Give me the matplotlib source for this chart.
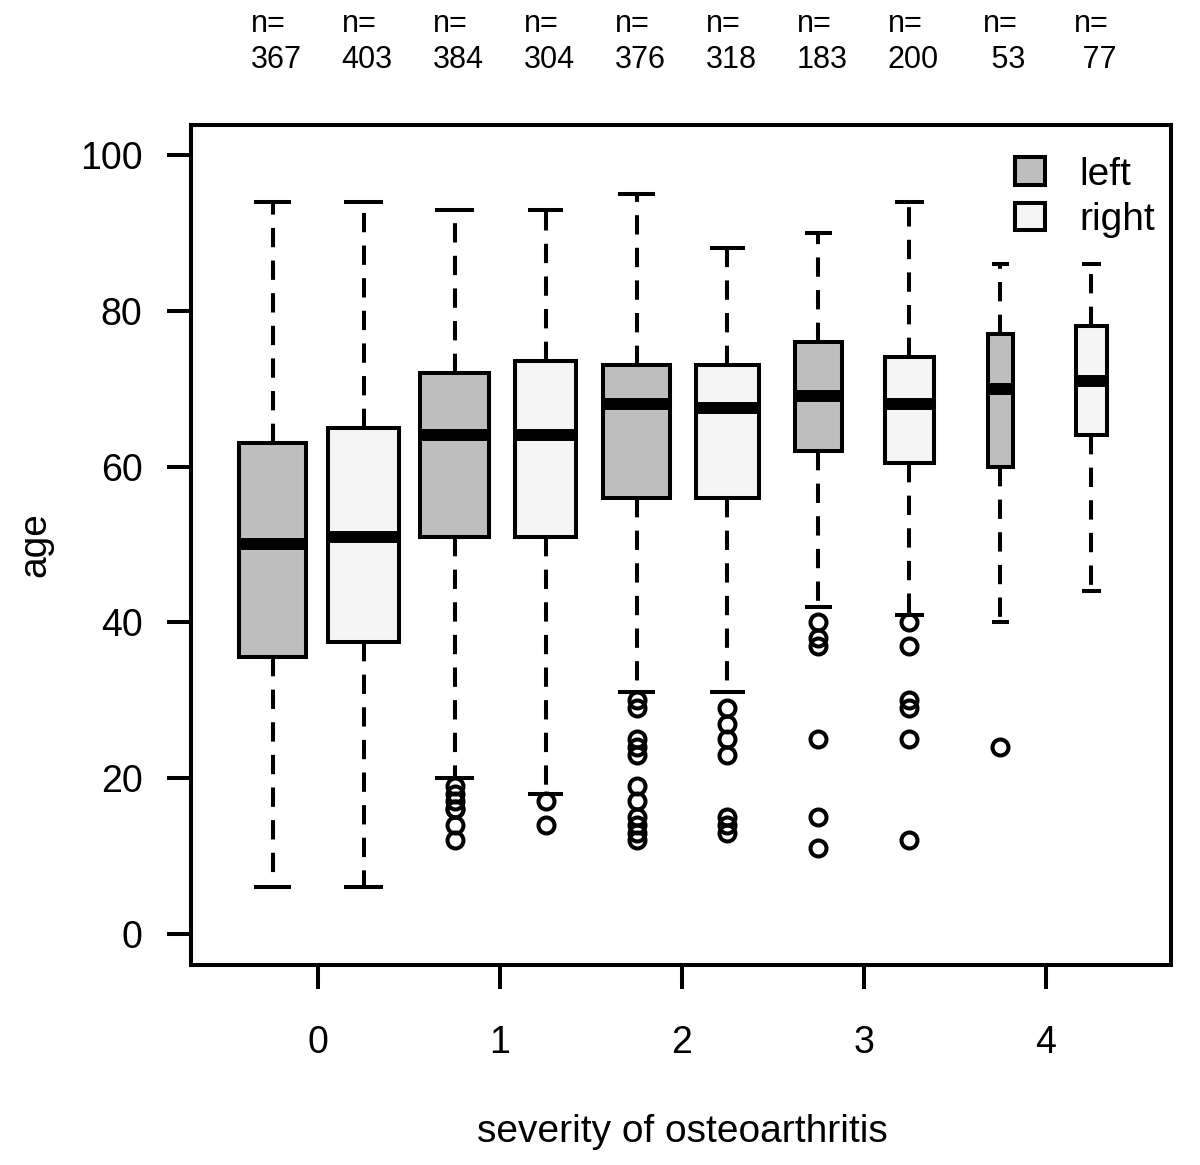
import numpy as np
import matplotlib
matplotlib.use("Agg")
import matplotlib.pyplot as plt
import matplotlib.transforms as mtransforms
from matplotlib.patches import Patch

plt.rcParams['font.family'] = ['Liberation Sans', 'DejaVu Sans']

# data (left/right alternating per severity grade)
severity = [0, 1, 2, 3, 4]
sides = ["left", "right"]
n_obs = [367, 403, 384, 304, 376, 318, 183, 200, 53, 77]
whislo = [6, 6, 20, 18, 31, 31, 42, 41, 40, 44]
q1 = [35.5, 37.5, 51, 51, 56, 56, 62, 60.5, 60, 64]
med = [50, 51, 64, 64, 68, 67.5, 69, 68, 70, 71]
q3 = [63, 65, 72, 73.5, 73, 73, 76, 74, 77, 78]
whishi = [94, 94, 93, 93, 95, 88, 90, 94, 86, 86]
fliers = [
    [],
    [],
    [19, 18, 17, 16, 16, 14, 12],
    [17, 14],
    [30, 29, 25, 24, 23, 19, 17, 15, 14, 13, 12],
    [29, 27, 25, 23, 15, 14, 13],
    [40, 38, 37, 25, 15, 11],
    [40, 37, 30, 29, 25, 12],
    [24],
    [],
]

side_colors = {"left": "#bebebe", "right": "#f5f5f5"}

stats = []
positions = []
widths = []
colors = []
nmax = max(n_obs)
for i in range(len(n_obs)):
    grade = severity[i // 2]
    side = sides[i % 2]
    stats.append(dict(med=med[i], q1=q1[i], q3=q3[i],
                      whislo=whislo[i], whishi=whishi[i], fliers=fliers[i]))
    positions.append(grade + (-0.25 if side == "left" else 0.25))
    widths.append(0.385 * np.sqrt(n_obs[i] / nmax))  # varwidth boxes
    colors.append(side_colors[side])

fig = plt.figure(figsize=(12, 11.65), dpi=100)
ax = fig.add_axes([191 / 1200, 200 / 1165, 980 / 1200, 840 / 1165])

lw = 2.9
res = ax.bxp(stats, positions=positions, widths=widths,
             capwidths=[w * 0.5 for w in widths],
             patch_artist=True, manage_ticks=False,
             boxprops=dict(linewidth=lw, edgecolor="black"),
             medianprops=dict(color="black", linewidth=8.6, solid_capstyle="butt"),
             whiskerprops=dict(color="black", linewidth=lw, linestyle=(0, (4.8, 3.3))),
             capprops=dict(color="black", linewidth=lw),
             flierprops=dict(marker="o", markersize=11.5, markerfacecolor="none",
                             markeredgecolor="black", markeredgewidth=lw))
for patch, c in zip(res["boxes"], colors):
    patch.set_facecolor(c)

ax.set_xlim(-0.698, 4.687)
ax.set_ylim(-4, 103.85)
ax.set_xticks(severity)
ax.set_xticklabels([str(s) for s in severity])
ax.set_yticks([0, 20, 40, 60, 80, 100])
for sp in ax.spines.values():
    sp.set_linewidth(lw)
ax.tick_params(axis="both", length=17, width=lw, labelsize=27)
ax.tick_params(axis="y", pad=18)
ax.tick_params(axis="x", pad=26)

fig.text(35 / 1200, 1 - 545 / 1165, "age", rotation=90,
         ha="center", va="center", fontsize=28)
fig.text(682 / 1200, 1 - 1132 / 1165, "severity of osteoarthritis",
         ha="center", va="center", fontsize=28)

# n counts above each box
trans = mtransforms.blended_transform_factory(ax.transData, fig.transFigure)
for x, n in zip(positions, n_obs):
    ax.text(x + 0.02, 1 - 42 / 1165, "n=\n%3d" % n, transform=trans,
            ha="center", va="center", multialignment="left",
            fontsize=22, linespacing=1.25)

handles = [Patch(facecolor=side_colors[s], edgecolor="black", linewidth=lw, label=s)
           for s in sides]
ax.legend(handles=handles, loc="upper right", bbox_to_anchor=(1, 1 - 16 / 840),
          frameon=False, fontsize=28,
          handlelength=0.77, handleheight=0.7, handletextpad=0.9,
          labelspacing=0.25, borderaxespad=0)

fig.savefig("out.png", dpi=100)
